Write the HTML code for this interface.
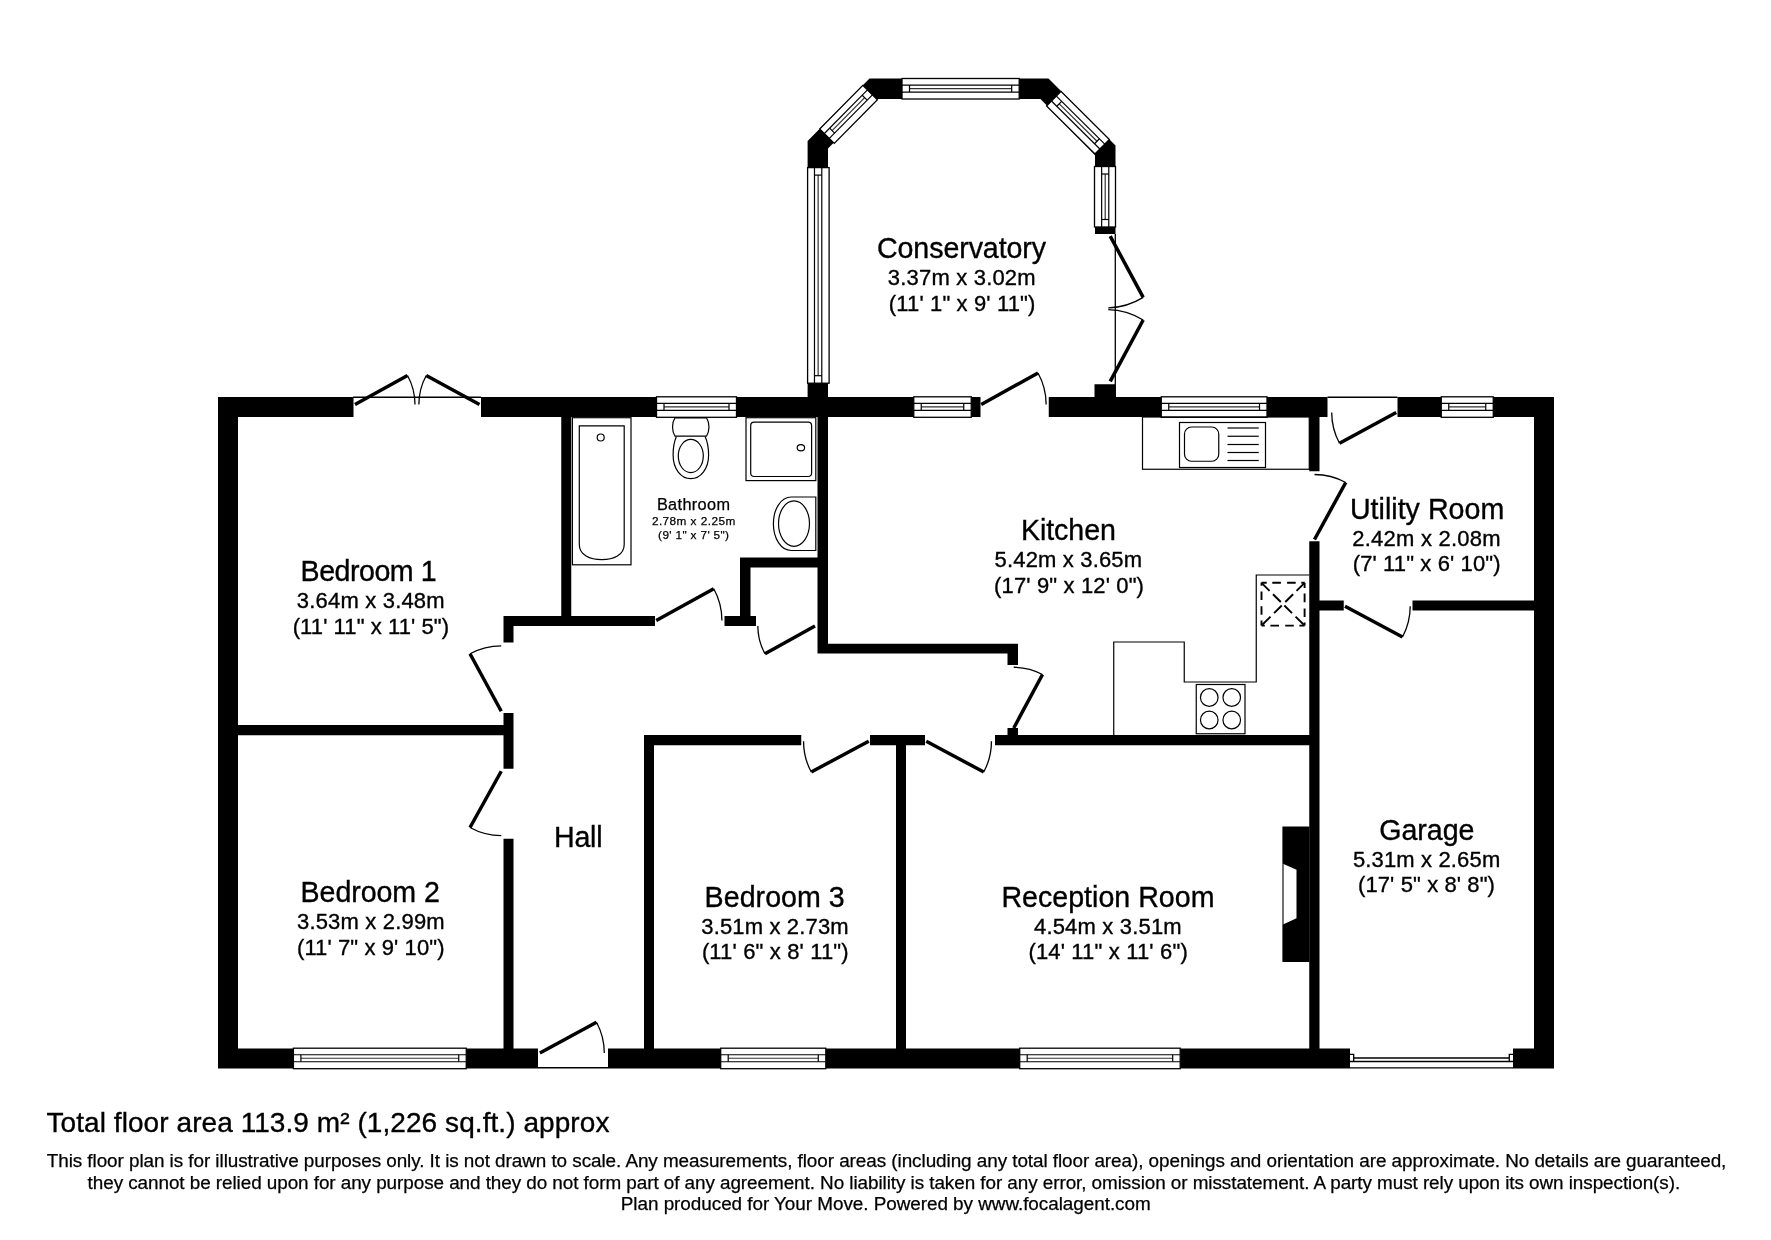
<!DOCTYPE html>
<html><head><meta charset="utf-8"><style>html,body{margin:0;padding:0;background:#fff;width:1771px;height:1240px;overflow:hidden}svg{display:block;will-change:transform}</style></head>
<body><svg width="1771" height="1240" viewBox="0 0 1771 1240">
<rect width="1771" height="1240" fill="#fff"/>
<path fill="#000" d="M218.00,397.00H353.50V417.00H218.00ZM481.00,397.00H656.50V417.00H481.00ZM736.50,397.00H913.75V417.00H736.50ZM971.25,397.00H980.50V417.00H971.25ZM1048.75,397.00H1161.25V417.00H1048.75ZM1267.00,397.00H1327.50V417.00H1267.00ZM1397.50,397.00H1441.25V417.00H1397.50ZM1493.25,397.00H1554.00V417.00H1493.25ZM218.00,397.00H238.00V1068.50H218.00ZM1534.00,397.00H1554.00V1068.50H1534.00ZM218.00,1048.50H293.40V1068.50H218.00ZM466.25,1048.50H538.00V1068.50H466.25ZM608.00,1048.50H720.70V1068.50H608.00ZM825.80,1048.50H1019.70V1068.50H825.80ZM1180.20,1048.50H1350.00V1068.50H1180.20ZM1513.00,1048.50H1554.00V1068.50H1513.00ZM238.00,725.00H503.75V735.30H238.00ZM503.50,616.00H513.50V642.50H503.50ZM503.50,713.00H513.50V768.75H503.50ZM503.50,838.75H513.50V1048.50H503.50ZM503.50,616.00H655.00V626.00H503.50ZM724.50,616.00H756.00V626.00H724.50ZM561.25,417.00H571.25V616.00H561.25ZM740.00,557.50H750.50V616.00H740.00ZM740.00,557.50H828.00V567.50H740.00ZM817.50,417.00H828.00V653.50H817.50ZM817.50,643.75H1018.00V653.50H817.50ZM1007.50,644.00H1018.00V665.00H1007.50ZM1007.50,728.00H1018.00V745.00H1007.50ZM644.50,735.00H801.25V745.30H644.50ZM870.00,735.00H925.00V745.30H870.00ZM995.00,735.00H1319.50V745.30H995.00ZM644.00,735.00H654.00V1048.50H644.00ZM896.00,735.00H906.00V1048.50H896.00ZM1309.25,417.00H1319.50V471.25H1309.25ZM1309.25,541.25H1319.50V1048.50H1309.25ZM1319.50,600.50H1343.75V610.50H1319.50ZM1412.50,600.50H1534.00V610.50H1412.50Z"/>
<line x1="353" y1="397.3" x2="481" y2="397.3" stroke="#000" stroke-width="1.4"/>
<line x1="1327.5" y1="397.3" x2="1397.5" y2="397.3" stroke="#000" stroke-width="1.4"/>
<line x1="538" y1="1067.8" x2="608" y2="1067.8" stroke="#000" stroke-width="1.4"/>
<g transform="translate(656.50,396.80) rotate(0.000)"><rect x="0" y="0" width="80.00" height="20.50" fill="#fff" stroke="#000" stroke-width="1.3"/><line x1="0" y1="6.56" x2="80.00" y2="6.56" stroke="#000" stroke-width="1.2"/><line x1="0" y1="13.53" x2="80.00" y2="13.53" stroke="#000" stroke-width="1.2"/><line x1="7.50" y1="10.04" x2="72.50" y2="10.04" stroke="#333" stroke-width="1.2"/><line x1="7.50" y1="6.56" x2="7.50" y2="13.53" stroke="#000" stroke-width="1.2"/><line x1="72.50" y1="6.56" x2="72.50" y2="13.53" stroke="#000" stroke-width="1.2"/></g>
<g transform="translate(913.75,396.80) rotate(0.000)"><rect x="0" y="0" width="57.50" height="20.50" fill="#fff" stroke="#000" stroke-width="1.3"/><line x1="0" y1="6.56" x2="57.50" y2="6.56" stroke="#000" stroke-width="1.2"/><line x1="0" y1="13.53" x2="57.50" y2="13.53" stroke="#000" stroke-width="1.2"/><line x1="7.50" y1="10.04" x2="50.00" y2="10.04" stroke="#333" stroke-width="1.2"/><line x1="7.50" y1="6.56" x2="7.50" y2="13.53" stroke="#000" stroke-width="1.2"/><line x1="50.00" y1="6.56" x2="50.00" y2="13.53" stroke="#000" stroke-width="1.2"/></g>
<g transform="translate(1161.25,396.80) rotate(0.000)"><rect x="0" y="0" width="105.75" height="20.50" fill="#fff" stroke="#000" stroke-width="1.3"/><line x1="0" y1="6.56" x2="105.75" y2="6.56" stroke="#000" stroke-width="1.2"/><line x1="0" y1="13.53" x2="105.75" y2="13.53" stroke="#000" stroke-width="1.2"/><line x1="7.50" y1="10.04" x2="98.25" y2="10.04" stroke="#333" stroke-width="1.2"/><line x1="7.50" y1="6.56" x2="7.50" y2="13.53" stroke="#000" stroke-width="1.2"/><line x1="98.25" y1="6.56" x2="98.25" y2="13.53" stroke="#000" stroke-width="1.2"/></g>
<g transform="translate(1441.25,396.80) rotate(0.000)"><rect x="0" y="0" width="52.00" height="20.50" fill="#fff" stroke="#000" stroke-width="1.3"/><line x1="0" y1="6.56" x2="52.00" y2="6.56" stroke="#000" stroke-width="1.2"/><line x1="0" y1="13.53" x2="52.00" y2="13.53" stroke="#000" stroke-width="1.2"/><line x1="7.50" y1="10.04" x2="44.50" y2="10.04" stroke="#333" stroke-width="1.2"/><line x1="7.50" y1="6.56" x2="7.50" y2="13.53" stroke="#000" stroke-width="1.2"/><line x1="44.50" y1="6.56" x2="44.50" y2="13.53" stroke="#000" stroke-width="1.2"/></g>
<g transform="translate(293.40,1048.20) rotate(0.000)"><rect x="0" y="0" width="172.85" height="20.50" fill="#fff" stroke="#000" stroke-width="1.3"/><line x1="0" y1="6.56" x2="172.85" y2="6.56" stroke="#000" stroke-width="1.2"/><line x1="0" y1="13.53" x2="172.85" y2="13.53" stroke="#000" stroke-width="1.2"/><line x1="7.50" y1="10.04" x2="165.35" y2="10.04" stroke="#333" stroke-width="1.2"/><line x1="7.50" y1="6.56" x2="7.50" y2="13.53" stroke="#000" stroke-width="1.2"/><line x1="165.35" y1="6.56" x2="165.35" y2="13.53" stroke="#000" stroke-width="1.2"/></g>
<g transform="translate(720.70,1048.20) rotate(0.000)"><rect x="0" y="0" width="105.10" height="20.50" fill="#fff" stroke="#000" stroke-width="1.3"/><line x1="0" y1="6.56" x2="105.10" y2="6.56" stroke="#000" stroke-width="1.2"/><line x1="0" y1="13.53" x2="105.10" y2="13.53" stroke="#000" stroke-width="1.2"/><line x1="7.50" y1="10.04" x2="97.60" y2="10.04" stroke="#333" stroke-width="1.2"/><line x1="7.50" y1="6.56" x2="7.50" y2="13.53" stroke="#000" stroke-width="1.2"/><line x1="97.60" y1="6.56" x2="97.60" y2="13.53" stroke="#000" stroke-width="1.2"/></g>
<g transform="translate(1019.70,1048.20) rotate(0.000)"><rect x="0" y="0" width="160.50" height="20.50" fill="#fff" stroke="#000" stroke-width="1.3"/><line x1="0" y1="6.56" x2="160.50" y2="6.56" stroke="#000" stroke-width="1.2"/><line x1="0" y1="13.53" x2="160.50" y2="13.53" stroke="#000" stroke-width="1.2"/><line x1="7.50" y1="10.04" x2="153.00" y2="10.04" stroke="#333" stroke-width="1.2"/><line x1="7.50" y1="6.56" x2="7.50" y2="13.53" stroke="#000" stroke-width="1.2"/><line x1="153.00" y1="6.56" x2="153.00" y2="13.53" stroke="#000" stroke-width="1.2"/></g>
<path d="M1350,1067.8 H1513 M1350,1061.5 H1513 M1353.7,1058 H1509.3 M1350,1054.4 H1353.7 V1061.5 M1513,1054.4 H1509.3 V1061.5" fill="none" stroke="#000" stroke-width="1.3"/>
<path fill="#000" d="M807.6,397 L807.6,141 L869.5,78.5 L1048.5,78.5 L1115.5,145.5 L1115.5,234 L1095,234 L1095,155 L1040.5,99 L877.5,99 L828,148.5 L828,397ZM1094.50,384.20H1115.50V397.00H1094.50Z"/>
<g transform="translate(807.60,383.20) rotate(-90.000)"><rect x="0" y="0" width="215.60" height="21.50" fill="#fff" stroke="#000" stroke-width="1.3"/><line x1="0" y1="6.88" x2="215.60" y2="6.88" stroke="#000" stroke-width="1.2"/><line x1="0" y1="14.19" x2="215.60" y2="14.19" stroke="#000" stroke-width="1.2"/><line x1="7.50" y1="10.54" x2="208.10" y2="10.54" stroke="#333" stroke-width="1.2"/><line x1="7.50" y1="6.88" x2="7.50" y2="14.19" stroke="#000" stroke-width="1.2"/><line x1="208.10" y1="6.88" x2="208.10" y2="14.19" stroke="#000" stroke-width="1.2"/></g>
<g transform="translate(902.00,78.50) rotate(0.000)"><rect x="0" y="0" width="117.20" height="20.50" fill="#fff" stroke="#000" stroke-width="1.3"/><line x1="0" y1="6.56" x2="117.20" y2="6.56" stroke="#000" stroke-width="1.2"/><line x1="0" y1="13.53" x2="117.20" y2="13.53" stroke="#000" stroke-width="1.2"/><line x1="7.50" y1="10.04" x2="109.70" y2="10.04" stroke="#333" stroke-width="1.2"/><line x1="7.50" y1="6.56" x2="7.50" y2="13.53" stroke="#000" stroke-width="1.2"/><line x1="109.70" y1="6.56" x2="109.70" y2="13.53" stroke="#000" stroke-width="1.2"/></g>
<g transform="translate(1115.50,166.50) rotate(90.000)"><rect x="0" y="0" width="60.50" height="21.00" fill="#fff" stroke="#000" stroke-width="1.3"/><line x1="0" y1="6.72" x2="60.50" y2="6.72" stroke="#000" stroke-width="1.2"/><line x1="0" y1="13.86" x2="60.50" y2="13.86" stroke="#000" stroke-width="1.2"/><line x1="7.50" y1="10.29" x2="53.00" y2="10.29" stroke="#333" stroke-width="1.2"/><line x1="7.50" y1="6.72" x2="7.50" y2="13.86" stroke="#000" stroke-width="1.2"/><line x1="53.00" y1="6.72" x2="53.00" y2="13.86" stroke="#000" stroke-width="1.2"/></g>
<g transform="translate(819.70,128.90) rotate(-45.330)"><rect x="0" y="0" width="61.31" height="20.50" fill="#fff" stroke="#000" stroke-width="1.3"/><line x1="0" y1="6.56" x2="61.31" y2="6.56" stroke="#000" stroke-width="1.2"/><line x1="0" y1="13.53" x2="61.31" y2="13.53" stroke="#000" stroke-width="1.2"/><line x1="7.50" y1="10.04" x2="53.81" y2="10.04" stroke="#333" stroke-width="1.2"/><line x1="7.50" y1="6.56" x2="7.50" y2="13.53" stroke="#000" stroke-width="1.2"/><line x1="53.81" y1="6.56" x2="53.81" y2="13.53" stroke="#000" stroke-width="1.2"/></g>
<g transform="translate(1061.00,91.40) rotate(44.762)"><rect x="0" y="0" width="68.17" height="20.50" fill="#fff" stroke="#000" stroke-width="1.3"/><line x1="0" y1="6.56" x2="68.17" y2="6.56" stroke="#000" stroke-width="1.2"/><line x1="0" y1="13.53" x2="68.17" y2="13.53" stroke="#000" stroke-width="1.2"/><line x1="7.50" y1="10.04" x2="60.67" y2="10.04" stroke="#333" stroke-width="1.2"/><line x1="7.50" y1="6.56" x2="7.50" y2="13.53" stroke="#000" stroke-width="1.2"/><line x1="60.67" y1="6.56" x2="60.67" y2="13.53" stroke="#000" stroke-width="1.2"/></g>
<line x1="355.00" y1="404.50" x2="407.50" y2="375.50" stroke="#000" stroke-width="3.5"/>
<path d="M407.50,375.50 A59.98,59.98 0 0 1 414.98,404.50" fill="none" stroke="#000" stroke-width="1.3"/>
<line x1="479.50" y1="404.50" x2="426.25" y2="375.50" stroke="#000" stroke-width="3.5"/>
<path d="M426.25,375.50 A60.63,60.63 0 0 0 418.87,404.50" fill="none" stroke="#000" stroke-width="1.3"/>
<line x1="656.25" y1="620.50" x2="713.75" y2="588.75" stroke="#000" stroke-width="3.5"/>
<path d="M713.75,588.75 A65.68,65.68 0 0 1 721.93,620.50" fill="none" stroke="#000" stroke-width="1.3"/>
<line x1="815.00" y1="626.00" x2="765.00" y2="653.75" stroke="#000" stroke-width="3.5"/>
<path d="M765.00,653.75 A57.18,57.18 0 0 1 757.82,626.00" fill="none" stroke="#000" stroke-width="1.3"/>
<line x1="501.25" y1="711.25" x2="470.00" y2="653.75" stroke="#000" stroke-width="3.5"/>
<path d="M470.00,653.75 A65.44,65.44 0 0 1 501.25,645.81" fill="none" stroke="#000" stroke-width="1.3"/>
<line x1="501.25" y1="771.25" x2="470.00" y2="827.50" stroke="#000" stroke-width="3.5"/>
<path d="M470.00,827.50 A64.35,64.35 0 0 0 501.25,835.60" fill="none" stroke="#000" stroke-width="1.3"/>
<line x1="1013.75" y1="728.00" x2="1042.50" y2="674.50" stroke="#000" stroke-width="3.5"/>
<path d="M1042.50,674.50 A60.74,60.74 0 0 0 1013.75,667.26" fill="none" stroke="#000" stroke-width="1.3"/>
<line x1="868.75" y1="741.25" x2="811.25" y2="772.00" stroke="#000" stroke-width="3.5"/>
<path d="M811.25,772.00 A65.21,65.21 0 0 1 803.54,741.25" fill="none" stroke="#000" stroke-width="1.3"/>
<line x1="926.25" y1="741.25" x2="983.75" y2="772.00" stroke="#000" stroke-width="3.5"/>
<path d="M983.75,772.00 A65.21,65.21 0 0 0 991.46,741.25" fill="none" stroke="#000" stroke-width="1.3"/>
<line x1="1314.50" y1="539.50" x2="1345.75" y2="482.50" stroke="#000" stroke-width="3.5"/>
<path d="M1345.75,482.50 A65.00,65.00 0 0 0 1314.50,474.50" fill="none" stroke="#000" stroke-width="1.3"/>
<line x1="1396.25" y1="412.50" x2="1339.50" y2="443.25" stroke="#000" stroke-width="3.5"/>
<path d="M1339.50,443.25 A64.55,64.55 0 0 1 1331.70,412.50" fill="none" stroke="#000" stroke-width="1.3"/>
<line x1="1345.00" y1="606.25" x2="1402.50" y2="637.00" stroke="#000" stroke-width="3.5"/>
<path d="M1402.50,637.00 A65.21,65.21 0 0 0 1410.21,606.25" fill="none" stroke="#000" stroke-width="1.3"/>
<line x1="981.25" y1="404.50" x2="1038.00" y2="373.00" stroke="#000" stroke-width="3.5"/>
<path d="M1038.00,373.00 A64.91,64.91 0 0 1 1046.16,404.50" fill="none" stroke="#000" stroke-width="1.3"/>
<line x1="539.90" y1="1053.00" x2="596.50" y2="1022.30" stroke="#000" stroke-width="3.5"/>
<path d="M596.50,1022.30 A64.39,64.39 0 0 1 604.29,1053.00" fill="none" stroke="#000" stroke-width="1.3"/>
<line x1="1110.20" y1="236.10" x2="1143.20" y2="297.40" stroke="#000" stroke-width="3.5"/>
<path d="M1143.20,297.40 A69.62,69.62 0 0 1 1108.30,307.90" fill="none" stroke="#000" stroke-width="1.3"/>
<line x1="1110.20" y1="381.30" x2="1143.20" y2="320.00" stroke="#000" stroke-width="3.5"/>
<path d="M1143.20,320.00 A69.62,69.62 0 0 0 1108.30,309.60" fill="none" stroke="#000" stroke-width="1.3"/>
<line x1="1115.3" y1="234" x2="1115.3" y2="397" stroke="#000" stroke-width="1.3"/>
<rect x="572.4" y="417.7" width="58.6" height="147.1" fill="none" stroke="#000" stroke-width="1.2"/>
<path d="M579.3,425.8 H624.2 V544.4 C624.2,555 613.5,559.7 601.75,559.7 C590,559.7 579.3,555 579.3,544.4 Z" fill="none" stroke="#000" stroke-width="1.2"/>
<circle cx="600.7" cy="437.5" r="3.5" fill="none" stroke="#000" stroke-width="1.2"/>
<path d="M675,417.8 H706.5 C709.8,423 709.8,431 706.5,436.2 H675 C671.7,431 671.7,423 675,417.8 Z" fill="none" stroke="#000" stroke-width="1.2"/>
<path d="M676.4,436.5 C674,442 673.1,448 673.1,455 C673.1,469 681,478.6 690.8,478.6 C700.6,478.6 708.6,469 708.6,455 C708.6,448 707.6,442 705.1,436.5" fill="none" stroke="#000" stroke-width="1.2"/>
<ellipse cx="690.8" cy="456" rx="12.5" ry="16.6" fill="none" stroke="#000" stroke-width="1.2"/>
<rect x="746" y="417.7" width="69.8" height="62.9" fill="none" stroke="#000" stroke-width="1.2"/>
<rect x="750.7" y="422.1" width="60.9" height="54.4" rx="3.5" fill="none" stroke="#000" stroke-width="1.2"/>
<ellipse cx="800.9" cy="447.8" rx="3.7" ry="3.1" fill="none" stroke="#000" stroke-width="1.2"/>
<path d="M815.8,497 H791.3 C781,497 773.4,509 773.4,523.75 C773.4,538.5 781,550.5 791.3,550.5 H815.8 Z" fill="none" stroke="#000" stroke-width="1.2"/>
<ellipse cx="794" cy="523.6" rx="15.5" ry="22.7" fill="none" stroke="#000" stroke-width="1.2"/>
<rect x="1142.5" y="417" width="166.75" height="52.25" fill="none" stroke="#000" stroke-width="1.2"/>
<rect x="1179.5" y="422.5" width="86" height="45" fill="none" stroke="#000" stroke-width="1.2"/>
<rect x="1184.5" y="427" width="34.25" height="34.25" rx="7" fill="none" stroke="#000" stroke-width="1.2"/>
<line x1="1227.5" y1="428" x2="1258.75" y2="428" stroke="#000" stroke-width="1.2"/>
<line x1="1227.5" y1="436.25" x2="1258.75" y2="436.25" stroke="#000" stroke-width="1.2"/>
<line x1="1227.5" y1="444.5" x2="1258.75" y2="444.5" stroke="#000" stroke-width="1.2"/>
<line x1="1227.5" y1="452.5" x2="1258.75" y2="452.5" stroke="#000" stroke-width="1.2"/>
<line x1="1227.5" y1="460.5" x2="1258.75" y2="460.5" stroke="#000" stroke-width="1.2"/>
<path d="M1113.75,735 V642 H1184.25 V682 H1256.25 V575 H1309.25" fill="none" stroke="#000" stroke-width="1.2"/>
<rect x="1196.25" y="684.5" width="48.75" height="49.25" fill="none" stroke="#000" stroke-width="1.2"/>
<circle cx="1209.25" cy="697.5" r="8.8" fill="none" stroke="#000" stroke-width="1.2"/>
<circle cx="1209.25" cy="720" r="8.8" fill="none" stroke="#000" stroke-width="1.2"/>
<circle cx="1231.75" cy="697.5" r="8.8" fill="none" stroke="#000" stroke-width="1.2"/>
<circle cx="1231.75" cy="720" r="8.8" fill="none" stroke="#000" stroke-width="1.2"/>
<path d="M1261.5,582.8 L1304.6,582.8" fill="none" stroke="#000" stroke-width="1.9" stroke-dasharray="5.2,5.6,8.6,6.2,8.6,5.6,5.2,100"/>
<path d="M1304.6,582.8 L1304.6,625.6" fill="none" stroke="#000" stroke-width="1.9" stroke-dasharray="5.2,5.6,8.6,6.2,8.6,5.6,5.2,100"/>
<path d="M1304.6,625.6 L1261.5,625.6" fill="none" stroke="#000" stroke-width="1.9" stroke-dasharray="5.2,5.6,8.6,6.2,8.6,5.6,5.2,100"/>
<path d="M1261.5,625.6 L1261.5,582.8" fill="none" stroke="#000" stroke-width="1.9" stroke-dasharray="5.2,5.6,8.6,6.2,8.6,5.6,5.2,100"/>
<path d="M1261.5,582.8 L1304.6,625.6" fill="none" stroke="#000" stroke-width="1.9" stroke-dasharray="11.4,4.8,11,5,10.8,5,11.6,100"/>
<path d="M1304.6,582.8 L1261.5,625.6" fill="none" stroke="#000" stroke-width="1.9" stroke-dasharray="11.4,4.8,11,5,10.8,5,11.6,100"/>
<path d="M1282.4,826.4 H1309.5 V962 H1282.4 V924.7 L1296.5,918.2 V869.8 L1282.4,863.4 Z" fill="#000"/>
<line x1="1283" y1="863.4" x2="1283" y2="924.7" stroke="#000" stroke-width="1.1"/>
<g font-family="Liberation Sans, sans-serif" fill="#000">
<text x="877.00" y="257.70" font-size="28.6" textLength="169.05" lengthAdjust="spacing" stroke="#000" stroke-width="0.35">Conservatory</text>
<text x="887.80" y="284.70" font-size="22" textLength="147.82" lengthAdjust="spacing" stroke="#000" stroke-width="0.35">3.37m x 3.02m</text>
<text x="888.80" y="310.70" font-size="22" textLength="146.58" lengthAdjust="spacing" stroke="#000" stroke-width="0.35">(11' 1" x 9' 11")</text>
<text x="300.60" y="580.70" font-size="28.6" textLength="135.97" lengthAdjust="spacing" stroke="#000" stroke-width="0.35">Bedroom 1</text>
<text x="296.80" y="607.90" font-size="22" textLength="147.82" lengthAdjust="spacing" stroke="#000" stroke-width="0.35">3.64m x 3.48m</text>
<text x="292.70" y="634.20" font-size="22" textLength="156.38" lengthAdjust="spacing" stroke="#000" stroke-width="0.35">(11' 11" x 11' 5")</text>
<text x="1020.90" y="539.80" font-size="28.6" textLength="95.07" lengthAdjust="spacing" stroke="#000" stroke-width="0.35">Kitchen</text>
<text x="994.60" y="566.60" font-size="22" textLength="147.42" lengthAdjust="spacing" stroke="#000" stroke-width="0.35">5.42m x 3.65m</text>
<text x="994.10" y="592.50" font-size="22" textLength="149.85" lengthAdjust="spacing" stroke="#000" stroke-width="0.35">(17' 9" x 12' 0")</text>
<text x="1349.90" y="519.10" font-size="28.6" textLength="154.32" lengthAdjust="spacing" stroke="#000" stroke-width="0.35">Utility Room</text>
<text x="1352.30" y="545.80" font-size="22" textLength="148.32" lengthAdjust="spacing" stroke="#000" stroke-width="0.35">2.42m x 2.08m</text>
<text x="1352.80" y="570.50" font-size="22" textLength="147.71" lengthAdjust="spacing" stroke="#000" stroke-width="0.35">(7' 11" x 6' 10")</text>
<text x="300.60" y="902.10" font-size="28.6" textLength="139.27" lengthAdjust="spacing" stroke="#000" stroke-width="0.35">Bedroom 2</text>
<text x="297.00" y="928.70" font-size="22" textLength="147.62" lengthAdjust="spacing" stroke="#000" stroke-width="0.35">3.53m x 2.99m</text>
<text x="297.00" y="954.90" font-size="22" textLength="147.51" lengthAdjust="spacing" stroke="#000" stroke-width="0.35">(11' 7" x 9' 10")</text>
<text x="704.60" y="906.90" font-size="28.6" textLength="140.17" lengthAdjust="spacing" stroke="#000" stroke-width="0.35">Bedroom 3</text>
<text x="701.30" y="933.90" font-size="22" textLength="147.32" lengthAdjust="spacing" stroke="#000" stroke-width="0.35">3.51m x 2.73m</text>
<text x="701.90" y="958.90" font-size="22" textLength="146.68" lengthAdjust="spacing" stroke="#000" stroke-width="0.35">(11' 6" x 8' 11")</text>
<text x="1001.40" y="906.80" font-size="28.6" textLength="213.08" lengthAdjust="spacing" stroke="#000" stroke-width="0.35">Reception Room</text>
<text x="1034.00" y="934.10" font-size="22" textLength="147.62" lengthAdjust="spacing" stroke="#000" stroke-width="0.35">4.54m x 3.51m</text>
<text x="1028.40" y="958.80" font-size="22" textLength="159.32" lengthAdjust="spacing" stroke="#000" stroke-width="0.35">(14' 11" x 11' 6")</text>
<text x="1379.20" y="839.80" font-size="28.6" textLength="95.27" lengthAdjust="spacing" stroke="#000" stroke-width="0.35">Garage</text>
<text x="1352.90" y="866.60" font-size="22" textLength="147.32" lengthAdjust="spacing" stroke="#000" stroke-width="0.35">5.31m x 2.65m</text>
<text x="1358.00" y="891.50" font-size="22" textLength="136.91" lengthAdjust="spacing" stroke="#000" stroke-width="0.35">(17' 5" x 8' 8")</text>
<text x="554.10" y="846.80" font-size="28.6" textLength="48.47" lengthAdjust="spacing" stroke="#000" stroke-width="0.35">Hall</text>
<text x="656.90" y="509.90" font-size="16.3" textLength="73.09" lengthAdjust="spacing" stroke="#000" stroke-width="0.25">Bathroom</text>
<text x="651.90" y="524.60" font-size="11.8" textLength="83.33" lengthAdjust="spacing" stroke="#000" stroke-width="0.25">2.78m x 2.25m</text>
<text x="658.10" y="538.60" font-size="11.8" textLength="70.90" lengthAdjust="spacing" stroke="#000" stroke-width="0.25">(9' 1" x 7' 5")</text>
<text x="46.50" y="1132.00" font-size="28" textLength="562.88" lengthAdjust="spacing" stroke="#000" stroke-width="0.35">Total floor area 113.9 m² (1,226 sq.ft.) approx</text>
<text x="46.70" y="1167.00" font-size="18.9" textLength="1679.63" lengthAdjust="spacing" stroke="#000" stroke-width="0.25">This floor plan is for illustrative purposes only. It is not drawn to scale. Any measurements, floor areas (including any total floor area), openings and orientation are approximate. No details are guaranteed,</text>
<text x="87.60" y="1188.60" font-size="18.9" textLength="1592.58" lengthAdjust="spacing" stroke="#000" stroke-width="0.25">they cannot be relied upon for any purpose and they do not form part of any agreement. No liability is taken for any error, omission or misstatement. A party must rely upon its own inspection(s).</text>
<text x="620.80" y="1209.60" font-size="18.9" textLength="529.89" lengthAdjust="spacing" stroke="#000" stroke-width="0.25">Plan produced for Your Move. Powered by www.focalagent.com</text>
</g>
</svg></body></html>
